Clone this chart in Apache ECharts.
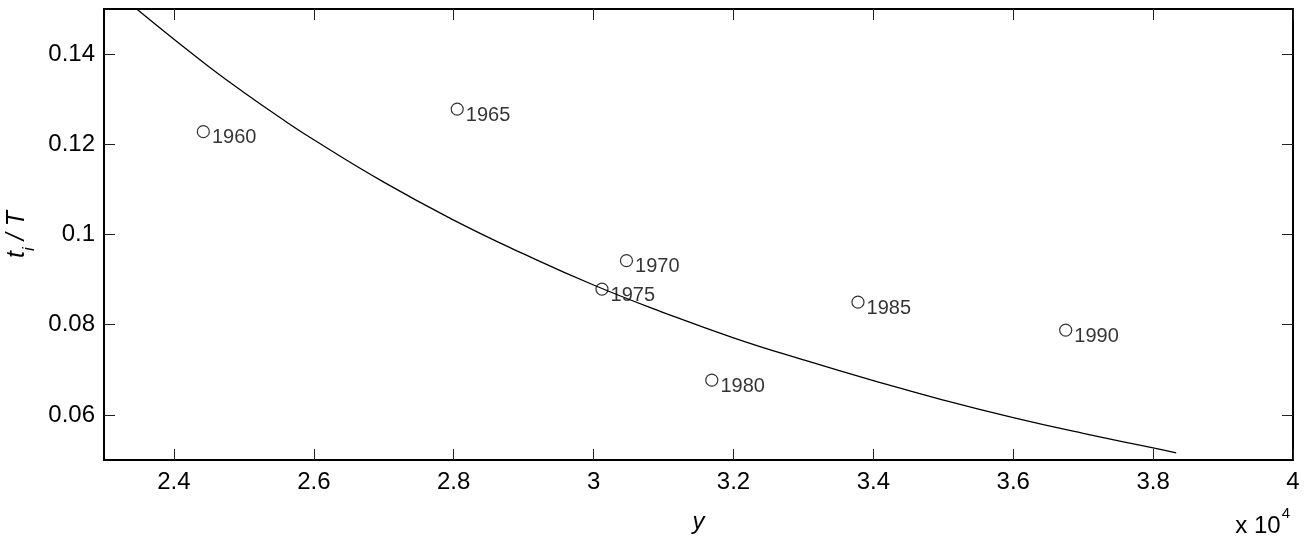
<!DOCTYPE html>
<html>
<head>
<meta charset="utf-8">
<script src="https://cdn.jsdelivr.net/npm/echarts@6/dist/echarts.min.js"></script>
<style>
html,body{margin:0;padding:0;background:#fff;}
#chart{width:1304px;height:539px;}
</style>
</head>
<body>
<div id="chart"></div>
<script>
// Observed points (x in units of 10^4)
const years = ['1960', '1965', '1970', '1975', '1980', '1985', '1990'];
const pointX = [2.442, 2.805, 3.047, 3.012, 3.169, 3.378, 3.675];
const pointY = [0.1228, 0.1278, 0.0942, 0.0879, 0.0677, 0.0850, 0.0788];

// Fitted curve
const curveX = [2.3467, 2.40, 2.45, 2.50, 2.55, 2.60, 2.70, 2.80, 2.90, 3.00, 3.10, 3.20, 3.30, 3.40, 3.50, 3.60, 3.70, 3.80, 3.833];
const curveY = [0.1500, 0.1433, 0.1372, 0.1315, 0.1261, 0.1210, 0.1116, 0.1032, 0.0957, 0.0888, 0.0827, 0.0771, 0.0722, 0.0676, 0.0633, 0.0594, 0.0559, 0.0527, 0.0516];

// Tick values
const xTicks = [2.4, 2.6, 2.8, 3, 3.2, 3.4, 3.6, 3.8, 4];
const yTicks = [0.06, 0.08, 0.1, 0.12, 0.14];

const FONT = '"Liberation Sans", Arial, Helvetica, sans-serif';

const chart = echarts.init(document.getElementById('chart'), null, {renderer: 'canvas'});

const tickStyle = {show: true, inside: true, length: 11, lineStyle: {color: '#222', width: 1}};
const lineStyleAxis = {show: true, onZero: false, lineStyle: {color: '#000', width: 2}};

chart.setOption({
  animation: false,
  backgroundColor: '#fff',
  grid: {left: 104, right: 11, top: 9, bottom: 79, containLabel: false, outerBoundsMode: 'none'},
  xAxis: [
    {
      type: 'value', min: 2.3, max: 4.0, position: 'bottom',
      axisLine: lineStyleAxis,
      axisTick: Object.assign({customValues: xTicks}, tickStyle),
      axisLabel: {customValues: xTicks, color: '#000', fontSize: 24, fontFamily: FONT, margin: 10,
        formatter: v => String(v)},
      splitLine: {show: false},
      name: 'y', nameLocation: 'middle', nameGap: 50,
      nameTextStyle: {color: '#000', fontSize: 24, fontStyle: 'italic', fontFamily: FONT}
    },
    {
      type: 'value', min: 2.3, max: 4.0, position: 'top',
      axisLine: lineStyleAxis,
      axisTick: Object.assign({customValues: xTicks}, tickStyle),
      axisLabel: {show: false},
      splitLine: {show: false}
    }
  ],
  yAxis: [
    {
      type: 'value', min: 0.05, max: 0.15, position: 'left',
      axisLine: lineStyleAxis,
      axisTick: Object.assign({customValues: yTicks}, tickStyle),
      axisLabel: {customValues: yTicks, color: '#000', fontSize: 24, fontFamily: FONT, margin: 9,
        formatter: v => String(v)},
      splitLine: {show: false},
      name: '{t|t}{s|i}{t| / T}', nameLocation: 'middle', nameGap: 71,
      nameTextStyle: {
        color: '#000', fontFamily: FONT,
        rich: {
          t: {fontSize: 25, fontStyle: 'italic', fontFamily: FONT, color: '#000', verticalAlign: 'bottom', lineHeight: 30},
          s: {fontSize: 17, fontStyle: 'italic', fontFamily: FONT, color: '#000', verticalAlign: 'bottom', lineHeight: 30, padding: [0, 0, -8, 0]}
        }
      }
    },
    {
      type: 'value', min: 0.05, max: 0.15, position: 'right',
      axisLine: lineStyleAxis,
      axisTick: Object.assign({customValues: yTicks}, tickStyle),
      axisLabel: {show: false},
      splitLine: {show: false}
    }
  ],
  series: [
    {
      type: 'line',
      xAxisIndex: 0, yAxisIndex: 0,
      data: curveX.map((x, i) => [x, curveY[i]]),
      smooth: true,
      showSymbol: false,
      symbol: 'none',
      lineStyle: {color: '#000', width: 1.3},
      z: 3
    },
    {
      type: 'scatter',
      xAxisIndex: 0, yAxisIndex: 0,
      data: pointX.map((x, i) => ({name: years[i], value: [x, pointY[i]]})),
      symbol: 'circle',
      symbolSize: 12,
      itemStyle: {color: 'rgba(0,0,0,0)', borderColor: '#000', borderWidth: 1.2},
      label: {
        show: true, position: 'right', distance: 2, offset: [0, 6],
        formatter: '{b}', color: '#000', fontSize: 20, fontFamily: FONT
      },
      emphasis: {disabled: true},
      z: 4
    }
  ],
  graphic: [
    {
      type: 'text',
      right: 14, bottom: 1,
      style: {
        text: '{a|x 10}{b|4}',
        fill: '#000',
        font: '24px ' + FONT,
        rich: {
          a: {fontSize: 24, fontFamily: FONT, fill: '#000', verticalAlign: 'bottom', lineHeight: 32},
          b: {fontSize: 15, fontFamily: FONT, fill: '#000', verticalAlign: 'top', lineHeight: 32, padding: [0, 0, 12, 1]}
        }
      }
    }
  ]
});
</script>
</body>
</html>
